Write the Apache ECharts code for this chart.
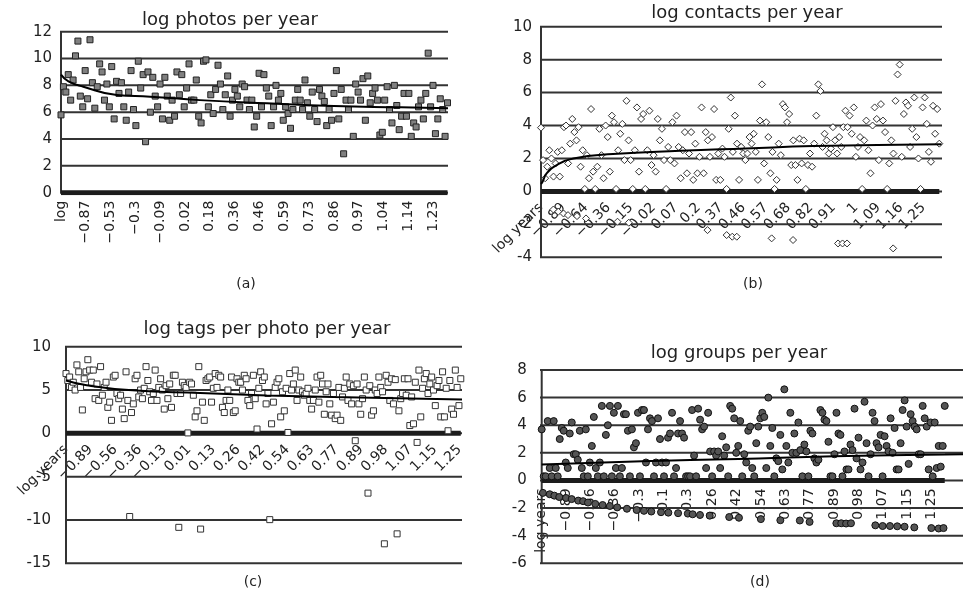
<!DOCTYPE html>
<html>
<head>
<meta charset="utf-8">
<script src="https://cdn.jsdelivr.net/npm/echarts@6/dist/echarts.min.js"></script>
<style>
  html, body { margin: 0; padding: 0; background: #fff; }
  #chart { width: 963px; height: 597px; }
</style>
</head>
<body>
<div id="chart"></div>
<script>
// (a) log photos per year
var photoLabels = ['log', '−0.87', '−0.53', '−0.3', '−0.09', '0.02', '0.18', '0.36', '0.46', '0.59', '0.73', '0.86', '0.97', '1.04', '1.14', '1.23'];
var photos = [5.8,7.9,7.5,8.8,6.9,8.4,10.2,11.3,7.2,6.4,9.1,7.0,11.4,8.2,6.3,7.9,9.6,9.0,6.9,8.1,6.4,9.4,5.5,8.3,7.4,8.2,6.4,5.4,7.5,9.1,6.2,5.0,9.8,7.8,8.8,3.8,9.0,6.0,8.6,7.2,6.4,8.1,5.5,8.6,7.2,5.4,6.9,5.7,9.0,7.3,8.8,6.4,7.8,9.6,6.9,6.9,8.4,5.7,5.2,9.8,9.9,6.4,7.3,5.9,7.7,9.5,8.1,6.2,7.3,8.7,5.7,6.9,7.7,7.2,6.4,8.1,7.9,6.9,6.2,6.9,4.9,5.7,8.9,6.4,8.8,7.8,7.2,5.0,6.4,8.0,6.9,7.4,5.4,6.4,5.9,4.8,6.2,6.9,7.7,6.9,6.2,8.4,6.7,5.7,7.5,6.2,5.3,7.7,7.2,6.8,5.0,6.2,5.4,7.4,9.1,5.5,7.7,2.9,6.9,6.2,6.9,4.2,8.1,7.5,6.9,8.5,5.4,8.7,6.7,7.4,7.8,6.9,4.3,4.5,6.9,7.9,6.2,5.2,8.0,6.5,4.7,5.7,7.4,5.7,7.4,4.2,5.2,4.9,6.4,6.9,5.5,7.4,10.4,6.4,8.0,4.4,5.5,7.0,6.2,4.2,6.7];
var photoTrendX = [0, 0.3, 0.9, 2.25, 3.6, 5.6, 8.3, 11.0, 13.7, 15.6];
var photoTrendY = [8.8, 8.3, 7.9, 7.28, 7.16, 6.9, 6.66, 6.46, 6.36, 6.29];

// (b) log contacts per year
var contactLabels = ['log years', '−0.89', '−0.64', '−0.36', '−0.15', '−0.02', '0.07', '0.2', '0.37', '0.46', '0.57', '0.68', '0.82', '0.91', '1', '1.09', '1.16', '1.25'];
var contacts = [3.87,1.9,0.8,1.5,2.5,2.0,0.9,1.7,2.4,0.9,2.5,3.9,4.0,1.7,2.9,4.4,3.6,3.1,3.9,1.5,2.5,0.15,2.2,0.8,5.0,1.2,0.15,1.5,3.8,2.2,0.8,4.0,3.3,1.2,4.6,4.2,0.15,2.5,3.5,4.1,1.9,5.5,3.1,1.9,0.15,2.5,5.1,1.2,4.4,4.7,0.15,2.5,4.9,1.6,2.2,1.2,4.4,3.1,3.8,1.9,0.15,2.7,1.9,4.2,1.7,4.6,2.7,0.8,2.5,3.6,1.1,2.3,3.6,0.7,2.9,1.1,2.1,5.1,1.1,3.6,3.1,2.1,3.3,5.0,0.7,2.3,0.7,2.6,2.1,0.15,3.8,5.7,2.4,4.6,2.9,0.7,2.7,2.3,1.9,2.3,3.3,2.9,3.5,2.4,0.7,4.3,6.5,1.7,4.2,3.3,1.1,2.4,0.15,0.7,2.9,2.2,5.3,5.1,4.2,4.7,1.6,3.1,1.6,0.7,3.2,1.7,3.1,0.15,1.6,2.3,1.5,2.9,4.6,6.5,6.1,2.7,3.5,3.1,2.3,2.6,3.9,3.1,2.3,3.3,2.7,3.9,4.9,3.9,4.6,3.5,5.1,2.1,2.7,3.3,0.15,3.1,4.3,2.5,1.1,4.0,5.1,4.4,1.9,5.3,4.3,3.6,0.15,1.7,3.1,2.3,5.5,7.1,7.7,2.1,4.7,5.4,5.2,2.7,3.8,5.7,3.3,2.0,0.15,5.1,5.7,4.1,2.4,1.8,5.2,3.5,5.0,2.9];
var contactLowX = [0.55, 0.77, 1.0, 1.2, 1.6, 2.0, 3.4, 3.9, 7.4, 8.25, 8.5, 8.7, 10.25, 11.2, 13.2, 13.4, 13.6, 15.65];
var contactLowY = [-1.1, -1.23, -1.34, -1.44, -1.5, -1.64, -1.84, -1.9, -2.35, -2.65, -2.75, -2.75, -2.85, -2.95, -3.16, -3.16, -3.16, -3.46];
var contactTrendX = [0, 0.07, 0.25, 0.7, 1.44, 3.2, 6.2, 9.1, 12.1, 17.8];
var contactTrendY = [0.45, 0.59, 1.09, 1.6, 2.0, 2.27, 2.47, 2.61, 2.75, 2.87];

// (c) log tags per photo per year
var tagLabels = ['log years', '−0.89', '−0.56', '−0.36', '−0.13', '0.01', '0.13', '0.26', '0.42', '0.54', '0.63', '0.77', '0.89', '0.98', '1.07', '1.15', '1.25'];
var tags = [6.9,6.1,6.5,5.3,5.9,5.0,7.9,7.1,5.3,2.7,6.3,7.1,8.5,7.3,5.9,7.3,4.0,5.7,3.8,7.7,4.4,5.3,5.9,3.0,3.6,1.5,6.5,6.7,4.6,4.0,4.4,2.8,1.7,7.1,3.8,-9.6,2.4,3.4,6.3,6.7,4.2,5.0,4.0,5.2,7.7,6.1,4.8,3.8,4.6,7.3,3.8,5.3,6.3,5.0,2.8,5.5,4.0,5.7,3.0,6.7,6.7,4.6,-10.85,4.6,5.9,5.5,5.3,0.05,5.9,5.7,4.4,1.9,2.6,7.7,-11.05,3.6,1.5,6.1,6.3,6.5,3.6,5.2,6.9,5.3,6.7,6.5,3.0,2.4,3.8,5.0,3.8,6.5,2.4,2.6,6.3,5.9,5.9,5.0,6.7,6.3,3.8,3.2,4.6,6.7,4.0,0.5,5.2,7.1,6.1,6.5,3.4,4.6,-9.96,1.1,3.6,5.3,5.9,6.3,1.9,4.8,2.6,5.2,0.1,6.9,5.0,5.7,7.3,3.8,5.0,6.5,4.8,4.4,4.6,5.2,3.8,2.8,3.8,5.0,6.5,3.6,6.7,5.7,2.2,4.8,5.7,3.4,2.1,4.6,1.7,2.1,5.3,1.5,4.2,5.2,6.5,3.8,5.7,3.4,5.5,-0.85,5.7,3.4,2.2,4.0,6.5,5.0,-6.9,5.5,2.1,2.6,5.0,4.6,6.5,5.3,4.8,-12.75,6.7,5.9,3.8,6.3,3.4,6.2,-11.6,2.6,4.0,4.6,6.3,4.4,6.3,0.9,4.2,1.1,5.9,-1.05,7.3,1.9,5.2,6.3,6.9,4.6,5.7,6.5,5.0,3.2,5.5,6.1,1.9,7.1,1.9,5.2,0.3,6.1,2.8,2.2,7.3,5.3,3.2,6.3];
var tagTrendX = [0, 0.84, 2.7, 5.45, 8.16, 10.86, 16.1];
var tagTrendY = [6.1, 5.55, 4.96, 4.65, 4.38, 4.19, 3.91];

// (d) log groups per year
var groupLabels = ['log years', '−0.89', '−0.56', '−0.36', '−0.3', '0.1', '0.3', '0.26', '0.42', '0.54', '0.63', '0.77', '0.89', '0.98', '1.07', '1.15', '1.25'];
var groups = [3.7,0.3,0.3,4.3,0.9,0.3,4.3,0.9,0.3,3.0,3.8,3.6,1.3,0.9,3.4,4.2,1.9,1.9,1.5,3.6,0.9,0.3,3.7,0.3,1.3,2.5,4.6,0.9,0.3,1.3,5.4,0.3,3.3,4.0,5.4,0.3,4.9,0.9,5.4,0.3,0.9,4.8,4.8,3.6,0.3,3.7,2.4,2.7,4.9,0.3,5.1,5.1,1.3,3.7,4.5,4.3,0.3,1.3,4.5,3.0,1.3,0.3,1.3,3.1,3.4,4.9,0.3,0.9,3.4,4.3,3.4,3.1,0.3,0.3,0.3,5.1,1.8,0.3,5.2,4.4,3.7,3.9,0.9,4.9,2.1,0.3,2.1,1.8,2.1,0.9,3.2,1.8,2.4,0.3,5.4,5.2,4.5,2.0,2.5,4.3,0.3,1.9,1.3,3.6,3.9,0.9,0.3,2.7,3.9,4.5,4.9,4.6,0.9,6.0,2.5,3.8,0.3,1.6,1.4,3.3,0.8,6.6,2.5,1.3,4.9,2.0,3.4,2.0,4.2,2.2,0.3,2.6,2.1,0.3,3.6,3.4,1.6,1.3,1.5,5.1,4.9,4.4,4.3,2.8,0.3,0.3,1.9,4.9,3.4,3.3,0.3,2.1,0.8,0.8,2.6,2.2,5.2,1.6,3.1,0.8,1.3,5.7,2.7,0.3,1.9,4.9,4.3,2.7,2.4,3.3,0.3,3.2,2.5,2.1,4.5,2.0,3.8,0.8,0.8,2.7,5.1,5.8,3.9,1.2,4.8,4.3,3.9,3.7,1.9,1.9,5.4,4.5,3.9,0.8,4.2,0.3,4.2,0.9,2.5,1.0,2.5,5.4];
var groupLowX = [0.05,0.33,0.52,0.72,1.0,1.23,1.5,1.7,1.9,2.2,2.5,2.8,3.1,3.5,3.9,4.2,4.5,4.9,5.2,5.6,6.0,6.2,6.5,6.9,7.7,8.1,9.0,9.8,10.6,11.0,12.1,12.3,12.5,12.7,13.7,14.0,14.3,14.6,14.9,15.3,16.0,16.3,16.5];
var groupLowY = [-0.9,-1.0,-1.1,-1.2,-1.27,-1.35,-1.46,-1.5,-1.6,-1.7,-1.78,-1.85,-1.95,-2.05,-2.14,-2.2,-2.25,-2.3,-2.33,-2.37,-2.4,-2.45,-2.5,-2.55,-2.65,-2.7,-2.8,-2.88,-2.9,-3.0,-3.1,-3.1,-3.12,-3.1,-3.25,-3.3,-3.3,-3.32,-3.35,-3.4,-3.45,-3.48,-3.45];
var groupTrendX = [0, 4.13, 8.07, 12.0, 16.56, 17.3];
var groupTrendY = [1.15, 1.39, 1.56, 1.75, 1.875, 1.9];

var FONT = 'DejaVu Sans';
var INK = '#222';

function pairs(xs, ys) {
    return xs.map(function (x, i) { return [x, ys[i]]; });
}
// observations sit one per category, evenly spread up to the last one
function spread(values, lastX) {
    return values.map(function (y, i) { return [i * lastX / (values.length - 1), y]; });
}
function labelFormatter(labels) {
    return function (v) {
        var j = Math.round(v);
        if (Math.abs(v - j) > 1e-6 || labels[j] === undefined) return '';
        return labels[j];
    };
}

var panels = [
    { grid: { left: 61, top: 31.7, width: 387, height: 161 }, span: 15.6, lastX: 15.58,
      y: [0, 12, 2], yMargin: 9, rotate: 90, labels: photoLabels, pad: [11, 0, 0, 0], margin: 8,
      values: photos, trendX: photoTrendX, trendY: photoTrendY,
      mark: { symbol: 'rect', size: 6, fill: '#808080', stroke: '#222' } },
    { grid: { left: 541, top: 26.7, width: 401, height: 230.6 }, span: 17.82, lastX: 17.7,
      y: [-4, 10, 2], yMargin: 9, rotate: 45, labels: contactLabels, pad: [8, 0, 0, 0], margin: 14,
      values: contacts, lowX: contactLowX, lowY: contactLowY, trendX: contactTrendX, trendY: contactTrendY,
      mark: { symbol: 'diamond', size: 7, fill: '#fff', stroke: '#333' } },
    { grid: { left: 66, top: 346.7, width: 396, height: 216.6 }, span: 16.1, lastX: 16.05,
      y: [-15, 10, 5], yMargin: 15, rotate: 45, labels: tagLabels, pad: [8, 0, 0, 0], margin: 14,
      values: tags, trendX: tagTrendX, trendY: tagTrendY,
      mark: { symbol: 'rect', size: 6, fill: '#fff', stroke: '#333' } },
    { grid: { left: 541.7, top: 370, width: 440, height: 193.3 }, span: 17.3, lastX: 16.55,
      y: [-6, 8, 2], yMargin: 15, rotate: 90, labels: groupLabels, pad: [10, 0, 0, 0], margin: 8,
      values: groups, lowX: groupLowX, lowY: groupLowY, trendX: groupTrendX, trendY: groupTrendY,
      mark: { symbol: 'circle', size: 7, fill: '#555', stroke: '#111' } }
];

var grids = [], xAxes = [], yAxes = [], series = [];
panels.forEach(function (p, k) {
    grids.push(p.grid);
    // the category labels hang from the zero line, not from the bottom of the plot
    var zeroOffset = -p.grid.height * (0 - p.y[0]) / (p.y[1] - p.y[0]);
    xAxes.push({
        type: 'value', gridIndex: k, min: 0, max: p.span, interval: 1, offset: zeroOffset,
        axisLine: { show: false, onZero: false },
        axisTick: { show: false },
        splitLine: { show: false },
        axisLabel: {
            rotate: p.rotate, margin: p.margin, padding: p.pad,
            fontFamily: FONT, fontSize: 14, color: INK,
            formatter: labelFormatter(p.labels)
        }
    });
    yAxes.push({
        type: 'value', gridIndex: k, min: p.y[0], max: p.y[1], interval: p.y[2],
        axisLine: { show: false },
        axisTick: { show: false },
        splitLine: { show: false },
        axisLabel: { margin: p.yMargin, fontFamily: FONT, fontSize: 15, color: INK }
    });

    // horizontal rules, each poking out past the axis like a tick
    var tickUnits = 4 * p.span / p.grid.width;
    for (var v = p.y[0]; v <= p.y[1] + 1e-9; v += p.y[2]) {
        series.push({
            type: 'line', xAxisIndex: k, yAxisIndex: k,
            data: [[-tickUnits, v], [p.span, v]],
            symbol: 'none', silent: true, z: 2, clip: false,
            lineStyle: { color: '#333', width: 2 }
        });
    }
    // vertical axis line
    series.push({
        type: 'line', xAxisIndex: k, yAxisIndex: k,
        data: [[0, p.y[0]], [0, p.y[1]]],
        symbol: 'none', silent: true, z: 2, clip: false,
        lineStyle: { color: '#333', width: 2 }
    });

    var markStyle = { color: p.mark.fill, borderColor: p.mark.stroke, borderWidth: 1, opacity: 1 };
    // the row of zero values reads as a thick band on the axis
    series.push({
        type: 'line', xAxisIndex: k, yAxisIndex: k, data: [[0, 0], [p.lastX, 0]],
        symbol: 'none', silent: true, z: 2,
        lineStyle: { color: '#1c1c1c', width: 5 }
    });
    series.push({
        type: 'scatter', xAxisIndex: k, yAxisIndex: k, data: spread(p.values, p.lastX),
        symbol: p.mark.symbol, symbolSize: p.mark.size, itemStyle: markStyle, z: 3
    });
    if (p.lowX) {
        series.push({
            type: 'scatter', xAxisIndex: k, yAxisIndex: k, data: pairs(p.lowX, p.lowY),
            symbol: p.mark.symbol, symbolSize: p.mark.size, itemStyle: markStyle, z: 3
        });
    }
    series.push({
        type: 'line', xAxisIndex: k, yAxisIndex: k, data: pairs(p.trendX, p.trendY),
        smooth: true, symbol: 'none', silent: true, z: 4,
        lineStyle: { color: '#000', width: 2 }
    });
});

var titleStyle = { fontFamily: FONT, fontSize: 18, fontWeight: 'normal', color: INK };
var capStyle = { fontFamily: FONT, fontSize: 14, fontWeight: 'normal', color: INK };
var titles = [
    { text: 'log photos per year', left: 230, top: 11, textAlign: 'center', textStyle: titleStyle },
    { text: 'log contacts per year', left: 747, top: 4, textAlign: 'center', textStyle: titleStyle },
    { text: 'log tags per photo per year', left: 267, top: 320, textAlign: 'center', textStyle: titleStyle },
    { text: 'log groups per year', left: 739, top: 344, textAlign: 'center', textStyle: titleStyle },
    { text: '(a)', left: 246, top: 277, textAlign: 'center', textStyle: capStyle },
    { text: '(b)', left: 753, top: 277, textAlign: 'center', textStyle: capStyle },
    { text: '(c)', left: 253, top: 575, textAlign: 'center', textStyle: capStyle },
    { text: '(d)', left: 760, top: 575, textAlign: 'center', textStyle: capStyle }
];
titles.forEach(function (t) { t.padding = 0; });

var myChart = echarts.init(document.getElementById('chart'));
myChart.setOption({
    backgroundColor: '#fff',
    animation: false,
    title: titles,
    grid: grids,
    xAxis: xAxes,
    yAxis: yAxes,
    series: series
});
</script>
</body>
</html>
